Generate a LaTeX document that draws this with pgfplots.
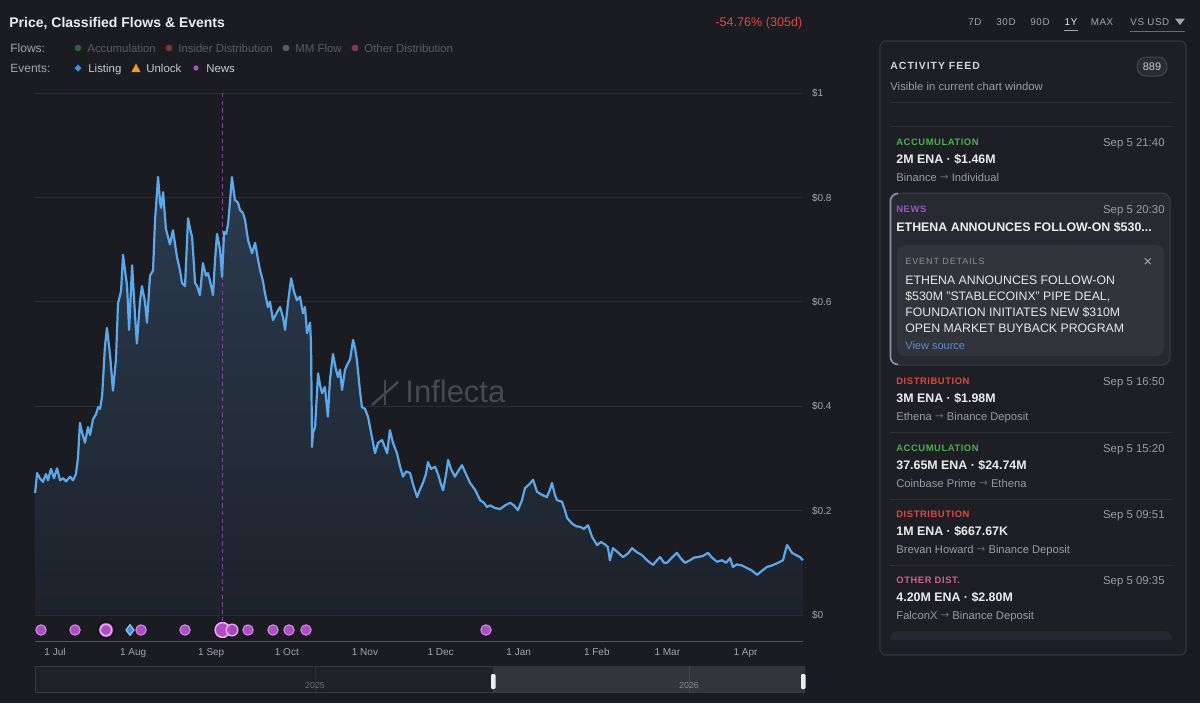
\documentclass[border=0pt]{standalone}
\usepackage{pgfplots}
\pgfplotsset{compat=1.18}
\usepackage{pgfplotstable}
\usepackage{fontspec}
\setmainfont{Liberation Sans}
\newfontfamily\sym{DejaVu Sans}

\definecolor{cbg}{HTML}{1A1C21}
\definecolor{cgrid}{HTML}{2B2E34}
\definecolor{cline}{HTML}{5CA8EA}
\definecolor{cfilltop}{HTML}{2B3B50}
\definecolor{cfillbot}{HTML}{1D222A}
\definecolor{ctext}{HTML}{A4A6AC}
\definecolor{cgray}{HTML}{9A9CA2}
\definecolor{cmuted}{HTML}{5A5C63}
\definecolor{cwhite}{HTML}{EDEDEF}
\definecolor{cred}{HTML}{E0473F}
\definecolor{cgreen}{HTML}{4CAF50}
\definecolor{cpurple}{HTML}{B04CC4}
\definecolor{cpurplelt}{HTML}{D690E6}
\definecolor{cpurplehl}{HTML}{E8AAF4}
\definecolor{cglow}{HTML}{C463DA}
\definecolor{cnews}{HTML}{A152CC}
\definecolor{cblue}{HTML}{3D8FE6}
\definecolor{cbluelt}{HTML}{A6CFF6}
\definecolor{corange}{HTML}{F29D2A}
\definecolor{cpink}{HTML}{D0609C}
\definecolor{cpanel}{HTML}{1D1F24}
\definecolor{cpanelbd}{HTML}{35373D}
\definecolor{ccard}{HTML}{272A30}
\definecolor{cinner}{HTML}{31343A}
\definecolor{csep}{HTML}{2E3036}
\definecolor{clink}{HTML}{5A8DD0}
\definecolor{cwm}{HTML}{464950}
\definecolor{carrow}{HTML}{6A6C72}
\definecolor{cdash}{HTML}{80469A}
\definecolor{dAcc}{HTML}{2F5E35}
\definecolor{dIns}{HTML}{7A3434}
\definecolor{dMM}{HTML}{5A5C62}
\definecolor{dOth}{HTML}{7A3A52}
\definecolor{cev}{HTML}{C8CACF}
\definecolor{navbd}{HTML}{383A40}
\definecolor{navbg}{HTML}{1F2126}
\definecolor{navsel}{HTML}{33353B}
\definecolor{navl1}{HTML}{30323A}
\definecolor{navl2}{HTML}{45474D}
\definecolor{navt1}{HTML}{6E7076}
\definecolor{navt2}{HTML}{8A8C92}
\definecolor{chandle}{HTML}{EDEDEF}
\definecolor{chead}{HTML}{D4D5D8}
\definecolor{badgebd}{HTML}{44464C}
\definecolor{badgebg}{HTML}{2A2C31}
\definecolor{badget}{HTML}{C8C9CC}
\definecolor{cardbd}{HTML}{3A3D44}
\definecolor{cardleft}{HTML}{8A96A8}
\definecolor{cdet}{HTML}{8D8F95}
\definecolor{cx}{HTML}{B0B2B6}
\definecolor{cbody}{HTML}{E8E8EA}
\definecolor{cstub}{HTML}{272930}

\newcommand\fs[1]{\fontsize{#1}{#1}\selectfont}
\newcommand\TL[5]{\node[anchor=base west,inner sep=0pt,text=#4,font=\fs{#3}] at ({#1},{#2+0.72*#3}) {#5};}
\newcommand\TR[5]{\node[anchor=base east,inner sep=0pt,text=#4,font=\fs{#3}] at ({#1},{#2+0.72*#3}) {#5};}
\newcommand\TC[5]{\node[anchor=base,inner sep=0pt,text=#4,font=\fs{#3}] at ({#1},{#2+0.72*#3}) {#5};}
\newcommand\Item[7]{%
  \TL{896}{#1}{4.7}{#2}{\bfseries\addfontfeature{LetterSpace=6}#3}
  \TR{1165}{#1}{5.7}{cgray}{#4}
  \TL{896}{#1+17}{6.2}{cwhite}{\bfseries #5}
  \TL{896}{#1+35}{5.6}{cgray}{#6 {\color{carrow}\sym\fs{5.2}\raisebox{0.25pt}{→}} #7}
}

\pgfplotstableread{
d p
-7.9 0.234
-7.1 0.272
-6.0 0.262
-4.8 0.255
-3.6 0.270
-2.8 0.258
-1.6 0.280
-0.4 0.262
0.8 0.281
2.0 0.258
3.2 0.262
4.4 0.256
6.0 0.265
7.1 0.258
8.3 0.270
9.1 0.300
9.9 0.368
10.7 0.350
11.9 0.330
13.1 0.360
13.9 0.345
15.1 0.375
16.3 0.385
17.1 0.398
17.9 0.395
18.7 0.420
19.8 0.513
20.6 0.550
21.8 0.500
23.0 0.430
24.2 0.490
25.0 0.597
26.2 0.620
27.0 0.690
27.8 0.660
28.6 0.630
29.4 0.546
30.6 0.670
31.8 0.570
32.5 0.520
33.7 0.600
34.5 0.630
35.7 0.600
36.5 0.560
37.7 0.650
38.9 0.660
39.7 0.757
40.9 0.839
41.7 0.790
42.1 0.780
42.9 0.810
44.0 0.740
45.6 0.710
46.8 0.737
48.4 0.686
49.6 0.660
50.4 0.636
51.6 0.630
52.8 0.760
53.6 0.740
54.4 0.724
55.6 0.636
56.4 0.630
57.5 0.613
58.7 0.674
59.9 0.650
60.7 0.655
61.5 0.640
62.7 0.613
63.5 0.680
64.3 0.730
65.5 0.700
66.3 0.648
67.1 0.734
67.9 0.730
68.7 0.750
69.4 0.790
70.2 0.839
71.4 0.795
72.6 0.790
73.4 0.776
74.6 0.770
75.4 0.757
76.6 0.718
78.2 0.693
79.4 0.713
80.6 0.680
81.4 0.660
82.5 0.640
83.3 0.617
84.5 0.590
85.3 0.600
86.5 0.565
88.1 0.580
89.3 0.590
90.5 0.570
91.3 0.546
92.5 0.600
93.7 0.645
94.8 0.620
96.0 0.603
97.2 0.610
98.4 0.578
99.2 0.590
100.0 0.540
101.2 0.560
101.6 0.520
102.0 0.322
102.4 0.350
103.2 0.360
104.4 0.463
105.2 0.440
106.0 0.425
107.1 0.437
108.3 0.380
109.1 0.450
110.3 0.500
111.5 0.470
112.3 0.456
113.1 0.470
113.9 0.431
115.1 0.470
115.9 0.479
117.1 0.490
118.3 0.527
119.1 0.510
119.8 0.489
121.0 0.430
121.8 0.398
123.0 0.395
124.2 0.380
125.4 0.350
127.0 0.310
128.2 0.330
129.8 0.335
131.0 0.320
131.8 0.310
132.9 0.354
134.1 0.330
135.7 0.310
136.9 0.285
138.1 0.265
139.3 0.275
140.9 0.272
142.1 0.250
143.7 0.226
144.8 0.240
146.0 0.253
147.2 0.270
148.0 0.293
149.2 0.280
150.8 0.284
152.0 0.270
153.2 0.250
154.0 0.239
155.2 0.270
156.0 0.297
157.1 0.280
158.7 0.265
159.9 0.275
161.5 0.287
163.1 0.270
164.7 0.253
166.7 0.240
168.7 0.220
170.2 0.215
171.4 0.207
172.6 0.210
174.6 0.205
176.6 0.203
178.6 0.210
180.6 0.215
182.1 0.210
183.7 0.201
185.3 0.220
186.5 0.243
188.1 0.250
189.7 0.259
191.3 0.236
193.3 0.230
195.2 0.226
196.4 0.240
197.2 0.253
198.4 0.230
199.2 0.220
201.2 0.217
202.4 0.200
203.2 0.186
205.2 0.175
206.8 0.170
208.3 0.169
209.9 0.165
211.5 0.172
213.1 0.150
215.1 0.134
216.7 0.140
218.3 0.135
219.4 0.130
220.2 0.105
221.4 0.128
223.4 0.120
225.4 0.111
227.4 0.118
229.0 0.128
231.0 0.120
232.9 0.115
234.9 0.105
237.3 0.096
238.9 0.105
240.1 0.111
241.7 0.100
242.9 0.100
244.8 0.110
246.8 0.119
248.4 0.108
250.0 0.100
252.0 0.105
253.6 0.110
255.2 0.111
257.1 0.113
259.1 0.119
260.7 0.110
262.7 0.102
264.7 0.105
266.3 0.100
267.9 0.109
269.0 0.092
270.6 0.097
272.6 0.095
274.6 0.090
276.6 0.085
278.6 0.077
280.6 0.085
282.5 0.092
284.5 0.095
286.9 0.100
288.9 0.105
289.7 0.120
290.5 0.134
291.7 0.125
292.5 0.119
294.0 0.115
295.6 0.111
296.8 0.105
}\price

\pgfplotstableread{
d y
-5.56 -0.0287
7.94 -0.0287
34.13 -0.0287
51.59 -0.0287
76.59 -0.0287
86.51 -0.0287
92.86 -0.0287
99.60 -0.0287
171.03 -0.0287
}\news

\begin{document}
\begin{tikzpicture}
\begin{scope}[x=0.5pt,y=-0.5pt]
\fill[cbg] (0,0) rectangle (1200,703);
% watermark
\draw[cwm, line width=1.2pt] (385,380) -- (385,405);
\draw[cwm, line width=1.2pt] (372,405) -- (398,382);
\TL{405}{391}{15.5}{cwm}{Inflecta}
\end{scope}

\begin{axis}[
  at={(17.5pt,-46.5pt)}, anchor=north west,
  scale only axis, width=384pt, height=274.05pt,
  xmin=-7.94, xmax=296.83, ymin=-0.05, ymax=1,
  axis line style={draw=none}, tick style={draw=none},
  ymajorgrids, major grid style={cgrid, line width=0.5pt},
  ytick={0,0.2,0.4,0.6,0.8,1},
  yticklabels={\$0,\$0.2,\$0.4,\$0.6,\$0.8,\$1},
  yticklabel pos=right,
  yticklabel style={anchor=base west, inner sep=0pt, xshift=4.3pt, yshift=-1.8pt, font=\fs{5}, text=ctext},
  xtick={0,31,62,92,123,153,184,215,243,274},
  xticklabels={1 Jul,1 Aug,1 Sep,1 Oct,1 Nov,1 Dec,1 Jan,1 Feb,1 Mar,1 Apr},
  xticklabel style={anchor=base, inner sep=0pt, yshift=-7.25pt, font=\fs{5}, text=ctext},
  clip=false,
]
\addplot[draw=none, top color=cfilltop, bottom color=cfillbot] table[x=d,y=p]{\price} \closedcycle;
\draw[cgrid!80!white, line width=0.5pt] (rel axis cs:0,0) -- (rel axis cs:1,0);
\draw[cdash, line width=0.6pt, dash pattern=on 2.2pt off 1.6pt] (axis cs:66.47,1) -- (axis cs:66.47,-0.02);
\addplot[cline, line width=1.1pt, line join=round] table[x=d,y=p]{\price};
% events
\addplot[only marks, mark=*, mark size=2.6pt, mark options={fill=cpurple, draw=cpurplelt, line width=0.5pt}] table[x=d,y=y]{\news};
\addplot[only marks, mark=*, mark size=4.2pt, mark options={fill=cglow, draw=none, fill opacity=0.22}] coordinates {(20.24,-0.0287) (66.47,-0.0287)};
\addplot[only marks, mark=*, mark size=2.9pt, mark options={fill=cpurple, draw=cpurplehl, line width=0.9pt}] coordinates {(20.24,-0.0287)};
\addplot[only marks, mark=*, mark size=3.7pt, mark options={fill=cpurple, draw=cpurplehl, line width=0.8pt}] coordinates {(66.47,-0.0287)};
\addplot[only marks, mark=*, mark size=2.9pt, mark options={fill=cpurple, draw=cpurplehl, line width=0.7pt, fill opacity=0.9}] coordinates {(70.24,-0.0287)};
\addplot[only marks, mark=diamond*, mark size=2.7pt, mark options={fill=cblue, draw=cbluelt, line width=0.5pt}] coordinates {(29.76,-0.0287)};
\end{axis}

\begin{scope}[x=0.5pt,y=-0.5pt]
% header
\TL{9}{22}{7}{cwhite}{\bfseries Price, Classified Flows \& Events}
\TL{715}{22}{6.3}{cred}{-54.76\% (305d)}
\TC{975}{22}{4.9}{ctext}{\addfontfeature{LetterSpace=6}7D}
\TC{1006}{22}{4.9}{ctext}{\addfontfeature{LetterSpace=6}30D}
\TC{1040}{22}{4.9}{ctext}{\addfontfeature{LetterSpace=6}90D}
\TC{1071}{22}{4.9}{cwhite}{\addfontfeature{LetterSpace=6}1Y}
\TC{1102}{22}{4.9}{ctext}{\addfontfeature{LetterSpace=6}MAX}
\TL{1130}{22}{4.9}{ctext}{\addfontfeature{LetterSpace=6}VS USD}
\fill[ctext] (1175,18.5) -- (1185,18.5) -- (1180,25) -- cycle;
\draw[ctext, line width=0.5pt] (1064,30.5) -- (1078,30.5);
\draw[carrow, line width=0.5pt] (1130,31) -- (1185,31);
% legend rows
\TL{10}{48}{6}{ctext}{Flows:}
\fill[dAcc] (78,48) circle (3.4);
\TL{87}{48}{5.7}{cmuted}{Accumulation}
\fill[dIns] (169,48) circle (3.4);
\TL{178}{48}{5.7}{cmuted}{Insider Distribution}
\fill[dMM] (286,48) circle (3.4);
\TL{295}{48}{5.7}{cmuted}{MM Flow}
\fill[dOth] (355,48) circle (3.4);
\TL{364}{48}{5.7}{cmuted}{Other Distribution}
\TL{10}{68}{6}{ctext}{Events:}
\fill[cblue] (78,64.5) -- (81.5,68) -- (78,71.5) -- (74.5,68) -- cycle;
\TL{88}{68}{5.7}{cev}{Listing}
\fill[corange] (131.5,72) -- (140.5,72) -- (136,63.5) -- cycle;
\TL{146}{68}{5.7}{cev}{Unlock}
\fill[cpurple] (196,68) circle (2.6);
\TL{206}{68}{5.7}{cev}{News}
% navigator
\draw[navbd, fill=navbg, line width=0.5pt] (35,666) rectangle (804,692);
\fill[navsel] (493,666.3) rectangle (803.7,691.7);
\draw[navl1, line width=0.5pt] (315,666) -- (315,692);
\draw[navl2, line width=0.5pt] (689,666) -- (689,692);
\TC{315}{685}{4.4}{navt1}{2025}
\TC{689}{685}{4.4}{navt2}{2026}
\fill[chandle, rounded corners=0.6pt] (491,674) rectangle (495.5,689);
\fill[chandle, rounded corners=0.6pt] (801,674) rectangle (805.5,689);
% activity feed panel
\draw[cpanelbd, fill=cpanel, rounded corners=3pt, line width=0.6pt] (880,41) rectangle (1186,655);
\TL{890}{66}{5.2}{chead}{\bfseries\addfontfeature{LetterSpace=10}ACTIVITY FEED}
\draw[badgebd, fill=badgebg, rounded corners=4.5pt, line width=0.5pt] (1137,57) rectangle (1167,76);
\TC{1152}{66.5}{5.5}{badget}{889}
\TL{890}{86}{5.65}{cgray}{Visible in current chart window}
\draw[csep, line width=0.5pt] (890,102) -- (1172,102);
\draw[csep, line width=0.5pt] (890,126) -- (1172,126);
\Item{142}{cgreen}{ACCUMULATION}{Sep 5 21:40}{2M ENA · \$1.46M}{Binance}{Individual}
% highlighted news card
\draw[cardbd, fill=ccard, rounded corners=4pt, line width=0.5pt] (890,193) rectangle (1170,365);
\draw[cardleft, line width=0.8pt] (898,193.5) to[out=180,in=90] (890.5,201) -- (890.5,357) to[out=-90,in=180] (898,364.5);
\TL{896}{209}{4.7}{cnews}{\bfseries\addfontfeature{LetterSpace=6}NEWS}
\TR{1165}{209}{5.7}{cgray}{Sep 5 20:30}
\TL{896}{227}{6.2}{cwhite}{\bfseries ETHENA ANNOUNCES FOLLOW-ON \$530...}
\fill[cinner, rounded corners=4pt] (897,245) rectangle (1164,356);
\TL{905}{261}{4.5}{cdet}{\addfontfeature{LetterSpace=10}EVENT DETAILS}
\TC{1148}{261}{6}{cx}{\sym ×}
\TL{905}{280}{6.15}{cbody}{ETHENA ANNOUNCES FOLLOW-ON}
\TL{905}{296}{6.15}{cbody}{\$530M "STABLECOINX" PIPE DEAL,}
\TL{905}{312}{6.15}{cbody}{FOUNDATION INITIATES NEW \$310M}
\TL{905}{328}{6.15}{cbody}{OPEN MARKET BUYBACK PROGRAM}
\TL{905}{346}{5.5}{clink}{View source}
\Item{381}{cred}{DISTRIBUTION}{Sep 5 16:50}{3M ENA · \$1.98M}{Ethena}{Binance Deposit}
\draw[csep, line width=0.5pt] (890,432) -- (1172,432);
\Item{448}{cgreen}{ACCUMULATION}{Sep 5 15:20}{37.65M ENA · \$24.74M}{Coinbase Prime}{Ethena}
\draw[csep, line width=0.5pt] (890,499) -- (1172,499);
\Item{514}{cred}{DISTRIBUTION}{Sep 5 09:51}{1M ENA · \$667.67K}{Brevan Howard}{Binance Deposit}
\draw[csep, line width=0.5pt] (890,565) -- (1172,565);
\Item{580}{cpink}{OTHER DIST.}{Sep 5 09:35}{4.20M ENA · \$2.80M}{FalconX}{Binance Deposit}
\fill[cstub, rounded corners=4pt] (890,631) rectangle (1172,648);
\fill[cpanel] (885,640) rectangle (1180,652);
\end{scope}
\pgfresetboundingbox
\path (0,0) rectangle (600pt,-351.5pt);
\end{tikzpicture}
\end{document}
